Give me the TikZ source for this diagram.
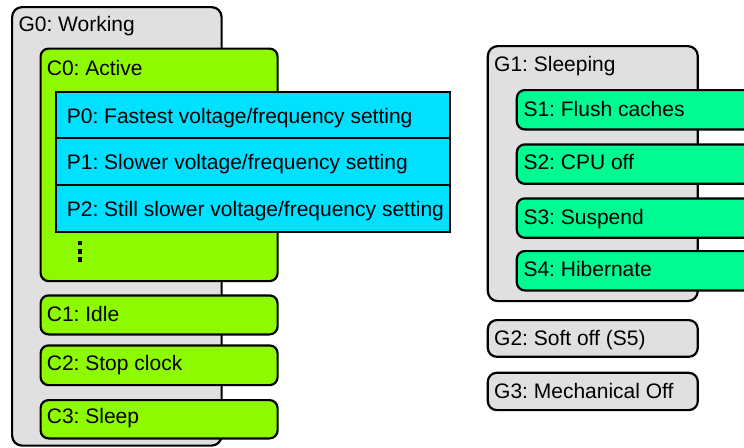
\documentclass[tikz,border=0pt]{standalone}
\usepackage{fontspec}
\setmainfont{Liberation Sans}
\frenchspacing
\definecolor{greyfill}{HTML}{E0E0E0}
\definecolor{limefill}{HTML}{8EFA00}
\definecolor{cyanfill}{HTML}{00E0FF}
\definecolor{seafill}{HTML}{00FA92}
\begin{document}
\begin{tikzpicture}[x=1pt,y=-1pt,
  box/.style={draw=black, line width=2.2pt, inner sep=0pt, anchor=north west},
  gbox/.style={box, fill=greyfill, rounded corners=10pt},
  cbox/.style={box, fill=limefill, rounded corners=8pt},
  pbox/.style={box, fill=cyanfill},
  sbox/.style={box, fill=seafill, rounded corners=8pt},
  lbl/.style={anchor=base west, inner sep=0pt, font=\fontsize{21}{24}\selectfont}]
\useasboundingbox (0,0) rectangle (744,447);
\clip (0,0) rectangle (744,447);
% G0
\node[gbox, minimum width=209.5pt, minimum height=438.5pt] (g0) at (11,6) {};
\node[lbl] (g0l) at (18.3,31.5) {G0: Working};
\node[cbox, minimum width=237pt, minimum height=232.5pt] (c0) at (39.5,47.5) {};
\node[lbl] (c0l) at (46.7,75) {C0: Active};
\node[pbox, minimum width=394.5pt, minimum height=46pt] (p0) at (54.5,91) {};
\node[lbl] (p0l) at (66.7,123.3) {P0: Fastest voltage/frequency setting};
\node[pbox, minimum width=394.5pt, minimum height=47pt] (p1) at (54.5,137) {};
\node[lbl] (p1l) at (66.7,169.3) {P1: Slower voltage/frequency setting};
\node[pbox, minimum width=394.5pt, minimum height=46.7pt] (p2) at (54.5,184) {};
\node[lbl] (p2l) at (66.7,216) {P2: Still slower voltage/frequency setting};
\foreach \yy in {243,251.5,259.5}
  \fill (78,\yy-2.1) rectangle ++(4.2,4.2);
\node[cbox, minimum width=237pt, minimum height=39pt] (c1) at (39.5,294.3) {};
\node[lbl] (c1l) at (46.7,321.7) {C1: Idle};
\node[cbox, minimum width=237pt, minimum height=39.7pt] (c2) at (39.5,344.3) {};
\node[lbl] (c2l) at (46.7,370.7) {C2: Stop clock};
\node[cbox, minimum width=237pt, minimum height=38.3pt] (c3) at (39.5,399) {};
\node[lbl] (c3l) at (46.7,423.3) {C3: Sleep};
% G1
\node[gbox, minimum width=210pt, minimum height=255pt] (g1) at (486.7,45) {};
\node[lbl] (g1l) at (494,71.7) {G1: Sleeping};
\node[sbox, minimum width=270pt, minimum height=39.3pt] (s1) at (515.7,89) {};
\node[lbl] (s1l) at (523.3,116) {S1: Flush caches};
\node[sbox, minimum width=270pt, minimum height=39.4pt] (s2) at (515.7,143.3) {};
\node[lbl] (s2l) at (523.3,169.3) {S2: CPU off};
\node[sbox, minimum width=270pt, minimum height=39.4pt] (s3) at (515.7,197.3) {};
\node[lbl] (s3l) at (523.3,224.3) {S3: Suspend};
\node[sbox, minimum width=270pt, minimum height=39.3pt] (s4) at (515.7,250) {};
\node[lbl] (s4l) at (523.3,276.7) {S4: Hibernate};
% G2, G3
\node[gbox, rounded corners=9pt, minimum width=210pt, minimum height=36.7pt] (g2) at (486.7,319) {};
\node[lbl] (g2l) at (494,345) {G2: Soft off (S5)};
\node[gbox, rounded corners=9pt, minimum width=210pt, minimum height=37.3pt] (g3) at (486.7,371.7) {};
\node[lbl] (g3l) at (494,398.3) {G3: Mechanical Off};
\end{tikzpicture}
\end{document}
